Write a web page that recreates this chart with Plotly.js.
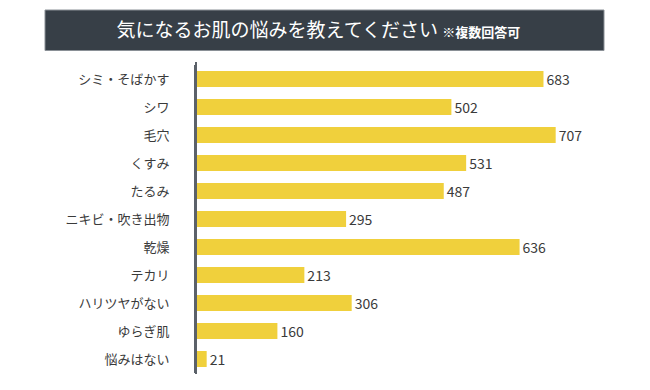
<!DOCTYPE html>
<html>
<head>
<meta charset="utf-8">
<script src="https://cdn.plot.ly/plotly-3.0.1.min.js"></script>
<style>html,body{margin:0;padding:0;background:#fff;}#chart{width:650px;height:390px;}</style>
</head>
<body>
<div id="chart"></div>
<script>
const categories = ["シミ・そばかす","シワ","毛穴","くすみ","たるみ","ニキビ・吹き出物","乾燥","テカリ","ハリツヤがない","ゆらぎ肌","悩みはない"];
const values = [683,502,707,531,487,295,636,213,306,160,21];
const titleMain = "気になるお肌の悩みを教えてください";
const titleNote = "※複数回答可";

const FONT = '"Noto Sans CJK JP", "Noto Sans", sans-serif';
const L = 196, R = 47, T = 65, B = 17;
const W = 650 - L - R, H = 390 - T - B;
const px = x => (x - L) / W;
const py = y => (390 - B - y) / H;

const trace = {
  type: 'bar',
  orientation: 'h',
  x: values,
  y: categories,
  text: values.map(String),
  textposition: 'outside',
  constraintext: 'none',
  cliponaxis: false,
  textfont: {family: FONT, size: 14, color: '#3a3a3a'},
  marker: {color: '#f0d03c', line: {width: 0}},
  hoverinfo: 'none'
};

const layout = {
  width: 650, height: 390,
  margin: {l: L, r: R, t: T, b: B},
  paper_bgcolor: '#ffffff', plot_bgcolor: '#ffffff',
  font: {family: FONT, color: '#3a3a3a'},
  bargap: 0.43,
  showlegend: false,
  title: {
    text: titleMain + ' <span style="font-size:13px;font-weight:bold">' + titleNote + '</span>',
    font: {family: FONT, size: 19, color: '#ffffff'},
    x: 0.49, xref: 'container', xanchor: 'center',
    y: 1 - 30/390, yref: 'container', yanchor: 'middle'
  },
  xaxis: {
    range: [0, 800], visible: false, showgrid: false, zeroline: false, fixedrange: true
  },
  yaxis: {
    autorange: 'reversed', type: 'category',
    showline: true, linecolor: '#5b6169', linewidth: 2,
    showgrid: false, zeroline: false,
    ticks: '', ticklabelstandoff: 22,
    tickfont: {family: FONT, size: 13, color: '#3a3a3a'}
  },
  shapes: [{
    type: 'rect', xref: 'paper', yref: 'paper', layer: 'below',
    x0: px(45), x1: px(604), y0: py(50.5), y1: py(10),
    fillcolor: '#373f47', line: {width: 1, color: '#8a9096'}
  }, {
    type: 'line', xref: 'paper', yref: 'paper', layer: 'above',
    x0: 0, x1: 0, y0: py(374), y1: py(62),
    line: {width: 2, color: '#5b6169'}
  }]
};

Plotly.newPlot('chart', [trace], layout, {displayModeBar: false, staticPlot: true});
</script>
</body>
</html>
